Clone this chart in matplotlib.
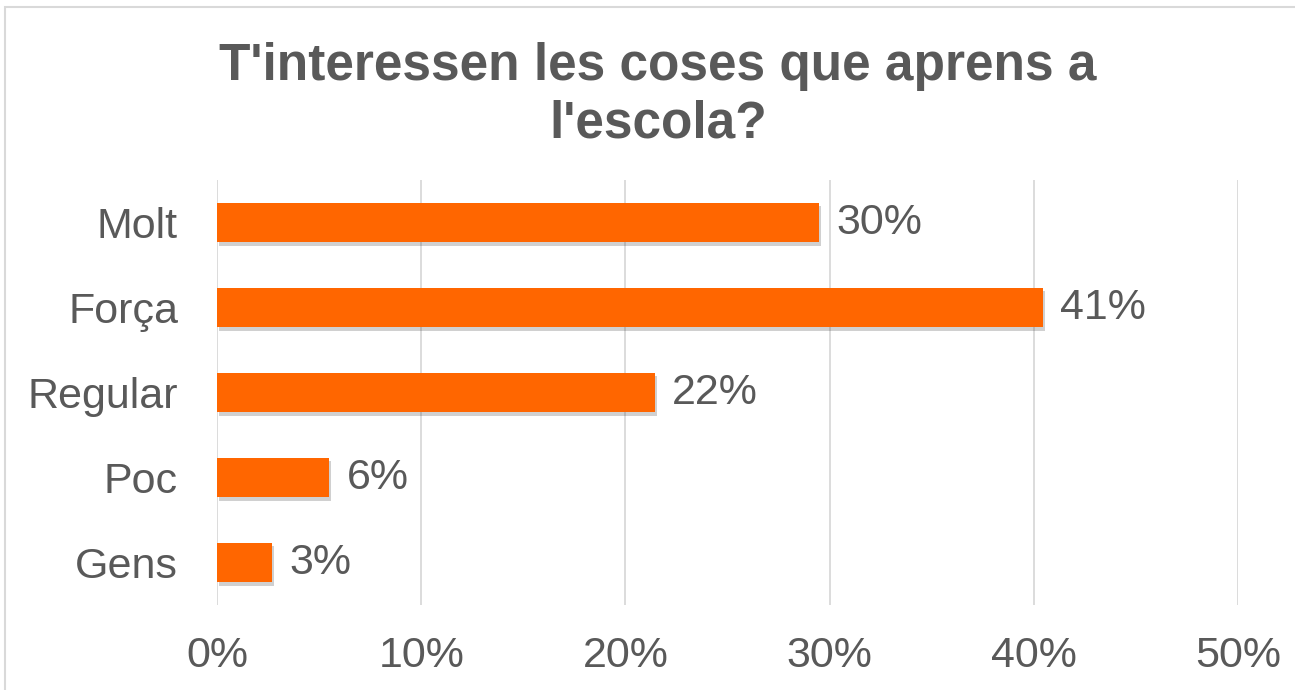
import matplotlib.pyplot as plt
import matplotlib.patheffects as pe
from matplotlib.patches import Rectangle

categories = ["Molt", "Força", "Regular", "Poc", "Gens"]
values = [29.5, 40.45, 21.45, 5.5, 2.7]
labels = ["30%", "41%", "22%", "6%", "3%"]
ticks = [0, 10, 20, 30, 40, 50]
tick_labels = ["0%", "10%", "20%", "30%", "40%", "50%"]
title_lines = ["T'interessen les coses que aprens a", "l'escola?"]

txt = "#595959"
plt.rcParams['font.family'] = ['Liberation Sans', 'DejaVu Sans']

fig = plt.figure(figsize=(12.95, 6.9), dpi=100)
fig.patches.append(Rectangle((5 / 1295, -0.1), 1.1, 1 - 7 / 690 + 0.1,
                             transform=fig.transFigure, fill=False,
                             edgecolor="#D9D9D9", linewidth=1.5))
ax = fig.add_axes([217 / 1295, 1 - 605 / 690, (1238 - 217) / 1295, 425 / 690])

y = list(range(len(categories)))
bars = ax.barh(y, values, height=0.47, color="#FF6600", zorder=3)
for b in bars:
    b.set_path_effects([pe.SimplePatchShadow(offset=(1.5, -2.5), alpha=0.25, shadow_rgbFace="#444444"),
                        pe.Normal()])
for yi, v, lab in zip(y, values, labels):
    ax.text(v + 0.85, yi, lab, va="center", ha="left", fontsize=31, color=txt)

ax.set_ylim(len(categories) - 0.5, -0.5)
ax.set_xlim(0, 50)
ax.set_yticks(y)
ax.set_yticklabels(categories, fontsize=31, color=txt)
ax.set_xticks(ticks)
ax.set_xticklabels(tick_labels, fontsize=31, color=txt)
ax.tick_params(axis="both", length=0)
ax.tick_params(axis="x", pad=22)
ax.tick_params(axis="y", pad=28)
ax.grid(axis="x", color="#D9D9D9", linewidth=1.3, zorder=0)
for s in ax.spines.values():
    s.set_visible(False)

for line, base in zip(title_lines, [80, 138]):
    fig.text(0.508, 1 - base / 690, line, ha="center", va="baseline",
             fontsize=37, fontweight="bold", color=txt)

fig.savefig("out.png", dpi=100)
